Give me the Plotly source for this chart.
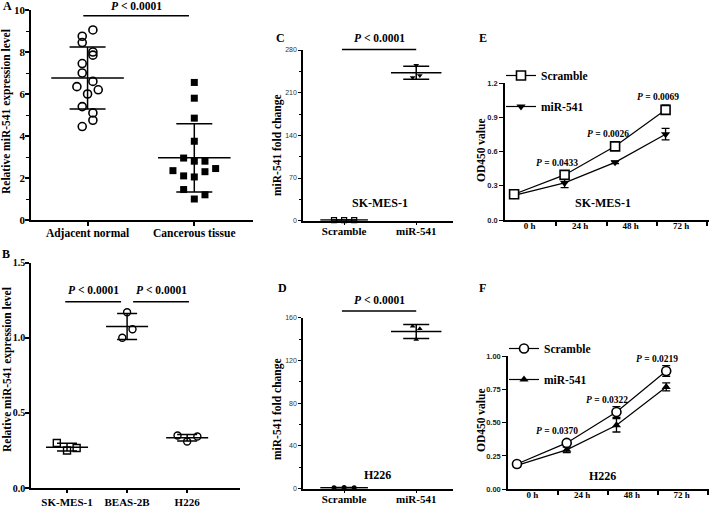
import numpy as np
import plotly.graph_objects as go

# ---------------- data ----------------
# Panel A
a_categories = ["Adjacent normal", "Cancerous tissue"]
a_adjacent = [8.75, 9.05, 8.45, 8.0, 7.85, 7.45, 7.0, 6.6, 6.35, 6.2, 6.0, 5.4, 5.1, 4.75, 4.45]
a_cancer = [6.55, 5.8, 4.85, 3.75, 2.95, 2.8, 2.8, 2.35, 2.1, 2.3, 2.45, 2.05, 1.45, 1.0, 1.2]
a_adjacent_jitter = [-0.05, 0.05, -0.05, 0.05, 0.05, -0.05, -0.05, 0.05, -0.1, 0.1, 0.0, -0.05, 0.05, 0.05, -0.05]
a_cancer_jitter = [0.0, 0.0, 0.0, 0.0, -0.1, 0.0, 0.1, -0.2, -0.1, 0.1, 0.2, 0.0, -0.1, 0.0, 0.1]

# Panel B
b_categories = ["SK-MES-1", "BEAS-2B", "H226"]
b_skmes = [0.30, 0.25, 0.266]
b_beas = [1.17, 1.057, 1.0]
b_h226 = [0.35, 0.31, 0.343]
b_jitter = [[-0.17, 0.0, 0.16], [0.0, 0.09, -0.08], [-0.16, 0.0, 0.17]]

# Panels C / D
cd_categories = ["Scramble", "miR-541"]
c_scramble = [1.1, 0.9, 1.0]
c_mir = [235, 238, 255]
d_scramble = [1.0, 1.1, 0.9]
d_mir = [152, 149.7, 139.7]
cd_jitter = [[-0.14, 0.0, 0.14], [-0.05, 0.05, 0.0]]

# Panels E / F
time_labels = ["0 h", "24 h", "48 h", "72 h"]
e_scramble = [0.225, 0.395, 0.645, 0.965]
e_scramble_err = [0.012, 0.03, 0.02, 0.04]
e_mir = [0.215, 0.325, 0.505, 0.752]
e_mir_err = [0.012, 0.042, 0.01, 0.05]
e_pvalues = ["0.0433", "0.0026", "0.0069"]
f_scramble = [0.19, 0.348, 0.58, 0.888]
f_scramble_err = [0.012, 0.015, 0.04, 0.04]
f_mir = [0.18, 0.296, 0.48, 0.768]
f_mir_err = [0.012, 0.02, 0.05, 0.03]
f_pvalues = ["0.0370", "0.0322", "0.0219"]

# ---------------- styling helpers ----------------
W, H = 709, 509
SERIF = "Liberation Serif"
SANS = "Liberation Sans"
BLACK = "black"


def px_x(p):
    return p / W


def px_y(p):
    return 1 - p / H


fig = go.Figure()


def dot_group(xa, ya, i, vals, jit, symbol, size, fill, lw, mean_half, cap_px):
    m = float(np.mean(vals))
    s = float(np.std(vals, ddof=1))
    fig.add_trace(go.Scatter(
        x=[i - mean_half, i + mean_half], y=[m, m], mode="lines",
        line=dict(color=BLACK, width=1.5), xaxis=xa, yaxis=ya,
        showlegend=False, hoverinfo="skip"))
    fig.add_trace(go.Scatter(
        x=[i], y=[m], mode="markers",
        marker=dict(size=1, color="rgba(0,0,0,0)"),
        error_y=dict(type="data", array=[s], color=BLACK, thickness=1.5, width=cap_px),
        xaxis=xa, yaxis=ya, showlegend=False, hoverinfo="skip"))
    fig.add_trace(go.Scatter(
        x=[i + j for j in jit], y=vals, mode="markers",
        marker=dict(symbol=symbol, size=size, color=fill,
                    line=dict(color=BLACK, width=lw)),
        xaxis=xa, yaxis=ya, showlegend=False, cliponaxis=False))


# Panel A
dot_group("x", "y", 0, a_adjacent, a_adjacent_jitter, "circle-open", 8, BLACK, 1.6, 0.34, 18)
dot_group("x", "y", 1, a_cancer, a_cancer_jitter, "square", 7, BLACK, 0, 0.34, 18)

# Panel B
for i, vals in enumerate([b_skmes, b_beas, b_h226]):
    sym = "square-open" if i == 0 else "circle-open"
    dot_group("x2", "y2", i, vals, b_jitter[i], sym, 7, BLACK, 1.4, 0.35, 10)

# Panel C
dot_group("x3", "y3", 0, c_scramble, cd_jitter[0], "square-open", 5, BLACK, 1.2, 0.33, 12)
dot_group("x3", "y3", 1, c_mir, cd_jitter[1], "triangle-down", 5, BLACK, 0, 0.35, 13)

# Panel D
dot_group("x4", "y4", 0, d_scramble, cd_jitter[0], "circle", 5, BLACK, 0, 0.33, 12)
dot_group("x4", "y4", 1, d_mir, cd_jitter[1], "triangle-up", 5, BLACK, 0, 0.35, 13)

# Panels E / F
idx = list(range(len(time_labels)))


def growth(xa, ya, scr, scr_err, mir, mir_err, scr_sym, mir_sym, legend):
    fig.add_trace(go.Scatter(
        x=idx, y=mir, mode="lines+markers", name="miR-541",
        line=dict(color=BLACK, width=1.2),
        marker=dict(symbol=mir_sym, size=8, color=BLACK),
        error_y=dict(type="data", array=mir_err, color=BLACK, thickness=1.3, width=4),
        xaxis=xa, yaxis=ya, legend=legend, legendgroup=legend + "m", legendrank=2))
    fig.add_trace(go.Scatter(
        x=idx, y=scr, mode="lines+markers", name="Scramble",
        line=dict(color=BLACK, width=1.2),
        marker=dict(symbol=scr_sym, size=9, color="white", line=dict(color=BLACK, width=1.6)),
        error_y=dict(type="data", array=scr_err, color=BLACK, thickness=1.3, width=4),
        xaxis=xa, yaxis=ya, legend=legend, legendgroup=legend + "s", legendrank=1))


growth("x5", "y5", e_scramble, e_scramble_err, e_mir, e_mir_err, "square", "triangle-down", "legend")
growth("x6", "y6", f_scramble, f_scramble_err, f_mir, f_mir_err, "circle", "triangle-up", "legend2")

# ---------------- axes ----------------
axis_common = dict(showline=True, linecolor=BLACK, linewidth=1.5, showgrid=False,
                   zeroline=False, ticks="outside", tickcolor=BLACK, tickwidth=1.5,
                   mirror=False, automargin=False)

layout = dict(
    width=W, height=H, margin=dict(l=0, r=0, t=0, b=0, pad=0, autoexpand=False),
    paper_bgcolor="white", plot_bgcolor="white",
    font=dict(family=SERIF, color=BLACK),
)

# A
layout["xaxis"] = dict(axis_common, domain=[px_x(31), px_x(253)], range=[-0.53, 1.55],
                       tickvals=[0, 1], ticktext=a_categories, ticklen=4, ticklabelstandoff=-3,
                       tickfont=dict(family=SERIF, size=11.5, weight="bold"), anchor="y")
layout["yaxis"] = dict(axis_common, domain=[px_y(220), px_y(10)], range=[0, 10], dtick=2,
                       ticklen=4, ticklabelstandoff=-2,
                       tickfont=dict(family=SERIF, size=11, weight="bold"),
                       minor=dict(dtick=1, ticks="outside", ticklen=3, tickcolor=BLACK, tickwidth=1),
                       anchor="x")
# B
layout["xaxis2"] = dict(axis_common, domain=[px_x(31), px_x(240)], range=[-0.6, 2.88],
                        tickvals=[0, 1, 2], ticktext=b_categories, ticklen=3,
                        tickfont=dict(family=SERIF, size=11, weight="bold"), anchor="y2")
layout["yaxis2"] = dict(axis_common, domain=[px_y(488), px_y(262.7)], range=[0, 1.5], dtick=0.5,
                        tickformat=".1f", ticklen=4, ticklabelstandoff=-2,
                        tickfont=dict(family=SERIF, size=10, weight="bold"), anchor="x2")
# C
layout["xaxis3"] = dict(axis_common, domain=[px_x(303), px_x(453)], range=[-0.57, 1.51],
                        tickvals=[0, 1], ticktext=cd_categories, ticklen=3, tickwidth=1,
                        ticklabelstandoff=-4,
                        tickfont=dict(family=SERIF, size=11, weight="bold"), anchor="y3")
layout["yaxis3"] = dict(axis_common, domain=[px_y(220.7), px_y(50)], range=[0, 280], dtick=70,
                        ticklen=3, tickwidth=1, tickfont=dict(family=SANS, size=7, color="#333"),
                        minor=dict(dtick=35, ticks="outside", ticklen=2, tickcolor=BLACK, tickwidth=1),
                        anchor="x3")
# D
layout["xaxis4"] = dict(axis_common, domain=[px_x(303), px_x(453)], range=[-0.57, 1.51],
                        tickvals=[0, 1], ticktext=cd_categories, ticklen=3, tickwidth=1,
                        ticklabelstandoff=-4,
                        tickfont=dict(family=SERIF, size=11, weight="bold"), anchor="y4")
layout["yaxis4"] = dict(axis_common, domain=[px_y(488.7), px_y(317.7)], range=[0, 160], dtick=40,
                        ticklen=3, tickwidth=1, tickfont=dict(family=SANS, size=7, color="#333"),
                        minor=dict(dtick=20, ticks="outside", ticklen=2, tickcolor=BLACK, tickwidth=1),
                        anchor="x4")
# E / F
label_pos = [i + 0.31 for i in idx]
boundary_pos = [i + 0.83 for i in idx]
for ax_n, dom_y, xstart, yr, dt, fmt in [
    ("5", [px_y(220), px_y(83)], 505, [0, 1.2], 0.3, ".1f"),
    ("6", [px_y(489.3), px_y(356)], 508, [0, 1.0], 0.25, ".2f"),
]:
    layout["xaxis" + ax_n] = dict(axis_common, domain=[px_x(xstart), 1.0], range=[-0.18, 3.86],
                                  tickvals=label_pos, ticktext=time_labels, ticks="",
                                  ticklabelstandoff=-4,
                                  tickfont=dict(family=SERIF, size=9, weight="bold"),
                                  minor=dict(tickvals=boundary_pos, ticks="outside", ticklen=4,
                                             tickcolor=BLACK, tickwidth=1.5),
                                  anchor="y" + ax_n)
    layout["yaxis" + ax_n] = dict(axis_common, domain=dom_y, range=yr, dtick=dt, tickformat=fmt,
                                  ticklen=4, tickwidth=1.2,
                                  tickfont=dict(family=SANS, size=7.5, weight="bold", color="#222"),
                                  anchor="x" + ax_n)

legend_style = dict(xanchor="left", yanchor="top", bgcolor="rgba(0,0,0,0)",
                    font=dict(family=SERIF, size=11.5, weight="bold", color=BLACK),
                    traceorder="grouped", tracegroupgap=12, itemclick=False)
layout["legend"] = dict(legend_style, x=px_x(501), y=px_y(61))
layout["legend2"] = dict(legend_style, x=px_x(504), y=px_y(334))

fig.update_layout(**layout)


def paper_x(axname, v):
    ax = layout[axname]
    d0, d1 = ax["domain"]
    r0, r1 = ax["range"]
    return d0 + (v - r0) / (r1 - r0) * (d1 - d0)


def paper_y(axname, v):
    ax = layout[axname]
    d0, d1 = ax["domain"]
    r0, r1 = ax["range"]
    return d0 + (v - r0) / (r1 - r0) * (d1 - d0)


# ---------------- annotations ----------------
ann = []


def text(x, y, s, size, xref="paper", yref="paper", angle=0, family=SERIF):
    ann.append(dict(x=x, y=y, xref=xref, yref=yref, text=s, showarrow=False,
                    textangle=angle, xanchor="center", yanchor="middle",
                    font=dict(family=family, size=size, color=BLACK, weight="bold")))


# panel letters
for letter, (lx, ly) in {"A": (7, 6), "B": (6, 254), "C": (280, 38), "D": (282, 288),
                         "E": (483, 38), "F": (482, 288)}.items():
    text(px_x(lx), px_y(ly), letter, 12)

# y-axis titles
text(px_x(7), px_y(112), "Relative miR-541 expression level", 11.5, angle=-90)
text(px_x(7), px_y(370), "Relative miR-541 expression level", 11.5, angle=-90)
text(px_x(277), px_y(145), "miR-541 fold change", 11.5, angle=-90)
text(px_x(277), px_y(409), "miR-541 fold change", 11.5, angle=-90)
text(px_x(481), px_y(150), "OD450 value", 11.5, angle=-90)
text(px_x(481), px_y(420), "OD450 value", 11.5, angle=-90)

PLT = "<i>P</i> &lt; 0.0001"
# significance bars (converted from each panel's data coordinates to paper)
shapes = []


def sig(xa, ya, x0, x1, ybar, ytext):
    px0, px1 = paper_x(xa, x0), paper_x(xa, x1)
    pyb, pyt = paper_y(ya, ybar), paper_y(ya, ytext)
    shapes.append(dict(type="line", xref="paper", yref="paper", x0=px0, x1=px1, y0=pyb, y1=pyb,
                       line=dict(color=BLACK, width=1.5)))
    text((px0 + px1) / 2, pyt, PLT, 11.5)


sig("xaxis", "yaxis", -0.04, 0.95, 9.73, 10.2)
sig("xaxis2", "yaxis2", -0.03, 0.9, 1.24, 1.315)
sig("xaxis2", "yaxis2", 1.1, 2.03, 1.24, 1.315)
sig("xaxis3", "yaxis3", -0.03, 1.0, 281, 300)
sig("xaxis4", "yaxis4", -0.03, 1.0, 166.3, 176.6)

# cell-line labels inside C-F
text(0.5, 29, "SK-MES-1", 12, xref="x3", yref="y3")
text(0.46, 12.8, "H226", 12, xref="x4", yref="y4")
text(1.76, 0.15, "SK-MES-1", 12, xref="x5", yref="y5")
text(1.72, 0.10, "H226", 12, xref="x6", yref="y6")

# P values on growth curves
for k, p in enumerate(e_pvalues):
    i = k + 1
    text(paper_x("xaxis5", i - 0.15), paper_y("yaxis5", e_scramble[i] + 0.108),
         "<i>P</i> = " + p, 9.5)
for k, p in enumerate(f_pvalues):
    i = k + 1
    text(paper_x("xaxis6", i - 0.19), paper_y("yaxis6", f_scramble[i] + 0.09),
         "<i>P</i> = " + p, 9.5)

fig.update_layout(annotations=ann, shapes=shapes)
fig.write_html("out.html", config={"displayModeBar": False},
               post_script="document.body.style.margin='0';document.body.style.overflow='hidden';")
